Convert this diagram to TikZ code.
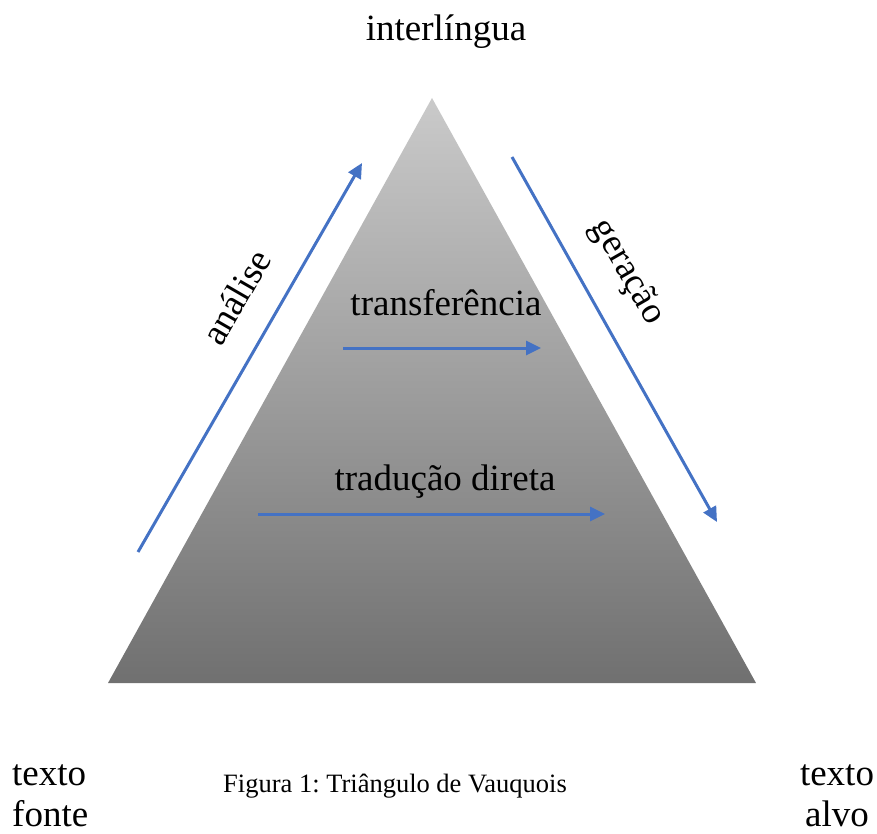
\documentclass[tikz,border=0pt]{standalone}
\usepackage{fontspec}
\setmainfont{Liberation Serif}
\usepackage{tikz}
\usetikzlibrary{arrows.meta,positioning}

\definecolor{flowblue}{RGB}{68,114,196}
\definecolor{pyrtop}{RGB}{202,202,202}
\definecolor{pyrbottom}{RGB}{112,112,112}

\begin{document}
\frenchspacing
\begin{tikzpicture}[x=1pt,y=-1pt,
    flow/.style={draw=flowblue,line width=3pt,-{Triangle[length=15pt,width=14pt]}},
    bigtext/.style={font=\fontsize{37}{41}\selectfont,inner sep=0pt}]
    \useasboundingbox (0,0) rectangle (877,834);

    %Triangle
    \coordinate (apex) at (432,98);
    \coordinate (left) at (108,683);
    \coordinate (right) at (756,683);
    \shade[top color=pyrtop,bottom color=pyrbottom] (apex) -- (left) -- (right) -- cycle;

    %Labels
    \begin{scope}[every node/.style={bigtext}]
      \node[anchor=base] (inter) at (446,41) {interlíngua};
      \node[anchor=base] (transf) at (446,315) {transferência};
      \node[anchor=base] (direta) at (445,490) {tradução direta};
      \node[rotate=60] (analise) at (236,297) {análise};
      \node[rotate=-60] (geracao) at (627,272) {geração};
      \node[align=left,anchor=north west] (fonte) at (12,764) {texto\\fonte};
      \node[align=center,anchor=north] (alvo) at (837,764) {texto\\alvo};
    \end{scope}
    \node[font=\fontsize{26.5}{30}\selectfont,inner sep=0pt,anchor=base] (caption) at (395,792) {Figura 1: Triângulo de Vauquois};

    %Arrows
    \coordinate (an1) at (138,552);
    \coordinate (an2) at (362,163);
    \coordinate (ge1) at (512,157);
    \coordinate (ge2) at (717,522);
    \coordinate (tr1) at (343,348);
    \coordinate (tr2) at (541,348);
    \coordinate (di1) at (258,514);
    \coordinate (di2) at (605,514);
    \draw[flow] (an1) -- (an2);
    \draw[flow] (ge1) -- (ge2);
    \draw[flow] (tr1) -- (tr2);
    \draw[flow] (di1) -- (di2);
\end{tikzpicture}
\end{document}
